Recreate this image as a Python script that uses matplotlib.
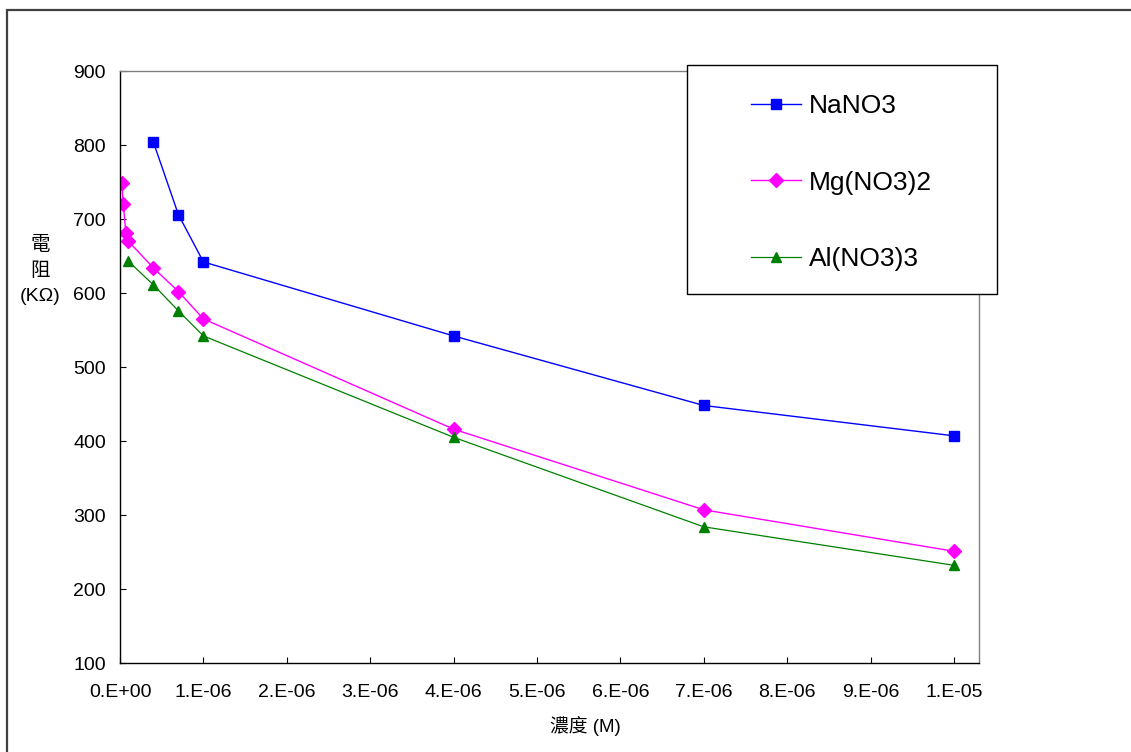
import matplotlib
matplotlib.use("Agg")
import matplotlib.pyplot as plt
from matplotlib.patches import Rectangle
from matplotlib.ticker import FixedLocator, FuncFormatter
import numpy as np

plt.rcParams['font.family'] = ['Liberation Sans', 'Noto Sans CJK TC', 'DejaVu Sans']

# concentration (M) and resistance (kOhm) for each salt
conc_na = [4e-7, 7e-7, 1e-6, 4e-6, 7e-6, 1e-5]
res_na = [804, 706, 642, 542, 448, 407]

conc_mg = [2e-8, 4e-8, 7e-8, 1e-7, 4e-7, 7e-7, 1e-6, 4e-6, 7e-6, 1e-5]
res_mg = [749, 720, 681, 670, 634, 602, 565, 416, 307, 251]

conc_al = [1e-7, 4e-7, 7e-7, 1e-6, 4e-6, 7e-6, 1e-5]
res_al = [643, 611, 576, 542, 405, 284, 232]

labels = ['NaNO3', 'Mg(NO3)2', 'Al(NO3)3']
x_ticks = np.arange(11) * 1e-6
y_ticks = np.arange(100, 901, 100)

W, H = 1131, 752
fig = plt.figure(figsize=(W / 100, H / 100), dpi=100)
ax = fig.add_axes([120 / W, 1 - 663 / H, (979 - 120) / W, (663 - 71) / H])

ax.plot(conc_na, res_na, color='#0000ff', lw=1.0, marker='s', ms=7.5, label=labels[0])
ax.plot(conc_mg, res_mg, color='#ff00ff', lw=1.0, marker='D', ms=7.2, label=labels[1])
ax.plot(conc_al, res_al, color='#008000', lw=0.9, marker='^', ms=7.5, label=labels[2])

ax.set_xlim(0, 1.03e-5)
ax.set_ylim(100, 900)
ax.xaxis.set_major_locator(FixedLocator(x_ticks))
ax.yaxis.set_major_locator(FixedLocator(y_ticks))


def excel_sci(v, pos):
    s = f"{v:.0e}"
    m, e = s.split('e')
    return f"{m}.E{e}"


ax.xaxis.set_major_formatter(FuncFormatter(excel_sci))
ax.tick_params(direction='in', length=4, width=0.8, labelsize=14,
               top=False, right=False)
ax.tick_params(axis='x', pad=15)
ax.tick_params(axis='y', pad=10)

for side in ('left', 'bottom'):
    ax.spines[side].set_color('black')
    ax.spines[side].set_linewidth(1.0)
for side in ('top', 'right'):
    ax.spines[side].set_color('#808080')
    ax.spines[side].set_linewidth(1.0)

fig.text(585 / W, 1 - 726 / H, '濃度 (M)', ha='center', va='center', fontsize=13.5)
fig.text(40 / W, 1 - 245 / H, '電', ha='center', va='center', fontsize=14)
fig.text(40 / W, 1 - 271 / H, '阻', ha='center', va='center', fontsize=14)
fig.text(40 / W, 1 - 297 / H, '(KΩ)', ha='center', va='center', fontsize=14)

# legend box drawn separately so padding can differ horizontally/vertically
fig.patches.append(Rectangle((687 / W, 1 - 294 / H), 310 / W, 229 / H,
                             transform=fig.transFigure, facecolor='white',
                             edgecolor='black', lw=1.0, zorder=5))
leg = fig.legend(loc='upper left', bbox_to_anchor=(751 / W, 1 - 94 / H),
                 frameon=False, fontsize=19, borderpad=0, borderaxespad=0,
                 handlelength=1.9, handletextpad=0.3, labelspacing=1.99)
leg.set_zorder(6)

# outer chart border
fig.patches.append(Rectangle((7 / W, -0.05), 1.1, 1 - 10 / H + 0.05,
                             transform=fig.transFigure, fill=False,
                             edgecolor='#404040', lw=1.6, zorder=0))

plt.savefig('out.png', dpi=100)
